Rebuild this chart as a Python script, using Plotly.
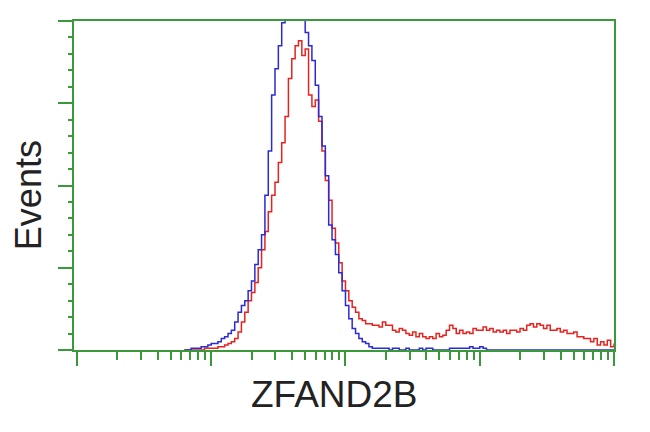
import plotly.graph_objects as go

# Histogram channels (log-spaced bins: 40 channels per decade)
channels = list(range(32, 161))

blue_counts = [
    0, 0, 1, 1, 1, 2, 2, 3, 4, 4,            # 32-41
    5, 7, 8, 10, 12, 17, 23, 27, 30, 36,     # 42-51
    42, 52, 61, 70, 94, 121, 155, 171, 185, 199,  # 52-61
    210, 218, 222, 220, 224, 212, 193, 185, 176, 161,  # 62-71
    142, 124, 106, 76, 67, 58, 47, 36, 27, 19,  # 72-81
    13, 10, 7, 5, 4, 2, 1, 1, 1, 1,          # 82-91
    1, 0, 1, 1, 0, 0, 1, 0, 0, 0,            # 92-101
    1, 0, 1, 1, 0, 0, 0, 0, 0, 1,            # 102-111
    1, 1, 1, 1, 1, 2, 1, 1, 2, 1,            # 112-121
    0, 0, 0, 0, 0, 0, 0, 0, 0, 0,            # 122-131
    0, 0, 0, 0, 0, 0, 0, 0, 0, 0,            # 132-141
    0, 0, 0, 0, 0, 0, 0, 0, 0, 0,            # 142-151
    0, 0, 0, 0, 0, 0, 0, 0, 0,               # 152-160
]

red_counts = [
    0, 0, 0, 0, 0, 0, 1, 1, 1, 1,            # 32-41
    2, 2, 3, 4, 5, 7, 11, 17, 23, 30,        # 42-51
    35, 41, 50, 61, 72, 84, 94, 102, 114, 126,  # 52-61
    142, 165, 177, 185, 188, 179, 183, 155, 148, 152,  # 62-71
    139, 121, 103, 91, 74, 65, 53, 42, 36, 30,  # 72-81
    26, 23, 19, 18, 16, 16, 15, 15, 14, 17,  # 82-91
    15, 15, 12, 11, 13, 12, 10, 9, 11, 8,    # 92-101
    10, 8, 7, 8, 7, 10, 8, 9, 12, 15,        # 102-111
    13, 10, 12, 10, 11, 10, 13, 12, 12, 14,  # 112-121
    12, 13, 11, 12, 11, 12, 10, 12, 12, 11,  # 122-131
    13, 12, 15, 16, 14, 16, 15, 13, 15, 12,  # 132-141
    12, 13, 11, 12, 10, 10, 11, 8, 8, 7,     # 142-151
    7, 5, 7, 3, 5, 3, 6, 2, 4,               # 152-160
]

x_vals = [10 ** (c / 40) for c in channels]

GREEN = "#3a9a3a"
TEXT = "#222222"
FONT = "Liberation Sans, Arial, sans-serif"

fig = go.Figure()
fig.add_trace(go.Scatter(x=x_vals, y=red_counts, mode="lines", line_shape="hv",
                         line=dict(color="#e6231f", width=1.5), showlegend=False))
fig.add_trace(go.Scatter(x=x_vals, y=blue_counts, mode="lines", line_shape="hv",
                         line=dict(color="#2b2bd6", width=1.5), showlegend=False))

fig.update_layout(
    width=650, height=432,
    margin=dict(l=74, r=36, t=21, b=82),
    paper_bgcolor="white", plot_bgcolor="white",
    showlegend=False,
    xaxis=dict(
        type="log", range=[-0.022, 4.0],
        showgrid=False, zeroline=False, showticklabels=False,
        showline=True, mirror=True, linecolor=GREEN, linewidth=2,
        ticks="outside", ticklen=14, tickwidth=2, tickcolor=GREEN, dtick=1,
        minor=dict(ticks="outside", ticklen=8, tickwidth=2, tickcolor=GREEN,
                   dtick="D1", showgrid=False),
    ),
    yaxis=dict(
        range=[0, 200],
        showgrid=False, zeroline=False, showticklabels=False,
        showline=True, mirror=True, linecolor=GREEN, linewidth=2,
        ticks="outside", ticklen=14, tickwidth=2, tickcolor=GREEN, dtick=50,
        minor=dict(ticks="outside", ticklen=4, tickwidth=2, tickcolor=GREEN,
                   dtick=10, showgrid=False),
    ),
    annotations=[
        dict(text="Events", xref="paper", yref="paper", x=-0.085, y=0.471,
             xanchor="center", yanchor="middle", textangle=-90, showarrow=False,
             font=dict(family=FONT, size=36, color=TEXT)),
        dict(text="ZFAND2B", xref="paper", yref="paper", x=0.483, y=-0.134,
             xanchor="center", yanchor="middle", showarrow=False,
             font=dict(family=FONT, size=37, color=TEXT)),
    ],
)

fig.write_html("out.html",
               config={"displayModeBar": False},
               post_script="document.body.style.margin='0';document.body.style.overflow='hidden';")
